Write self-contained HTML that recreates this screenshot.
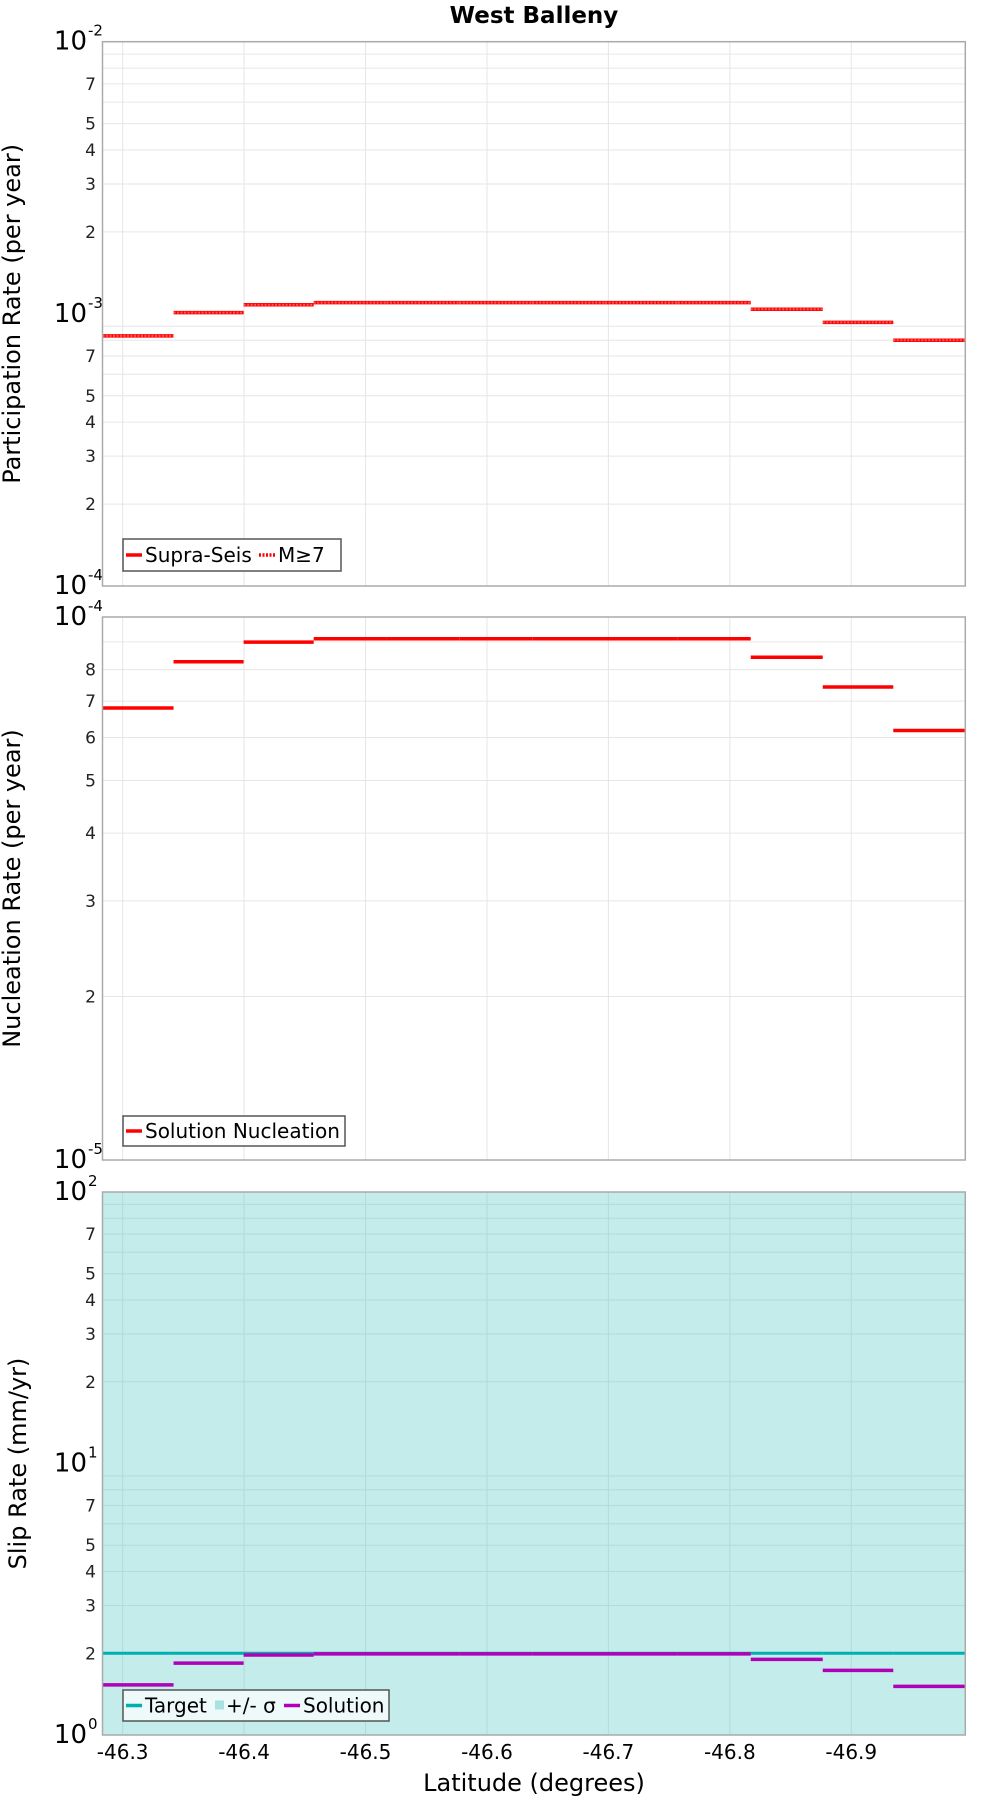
<!DOCTYPE html>
<html><head><meta charset="utf-8"><style>
body{margin:0;background:#fff;}
svg{display:block;font-family:"DejaVu Sans","Liberation Sans",sans-serif;}
</style></head><body>
<svg id="chart" width="1000" height="1800" viewBox="0 0 1000 1800">
<text x="534" y="23" text-anchor="middle" font-size="23" font-weight="bold">West Balleny</text>
<g id="g"></g>
</svg>
<script>
// Segment boundaries (latitude magnitude, degrees south)
const segStart = [46.2834,46.3419,46.3996,46.4573,46.5173,46.5772,46.6373,46.6972,46.7572,46.8172,46.8765,46.9346];
const segEnd   = [46.3419,46.3996,46.4573,46.5173,46.5772,46.6373,46.6972,46.7572,46.8172,46.8765,46.9346,46.9939];
const xTicks = [46.3,46.4,46.5,46.6,46.7,46.8,46.9];
const xTickLabels = ["-46.3","-46.4","-46.5","-46.6","-46.7","-46.8","-46.9"];
const supraSeis = [8.3e-4,1.01e-3,1.08e-3,1.10e-3,1.10e-3,1.10e-3,1.10e-3,1.10e-3,1.10e-3,1.04e-3,9.3e-4,8.0e-4];
const m7 = [8.3e-4,1.01e-3,1.08e-3,1.10e-3,1.10e-3,1.10e-3,1.10e-3,1.10e-3,1.10e-3,1.04e-3,9.3e-4,8.0e-4];
const nucleation = [6.8e-5,8.27e-5,8.99e-5,9.12e-5,9.12e-5,9.12e-5,9.12e-5,9.12e-5,9.12e-5,8.43e-5,7.43e-5,6.18e-5];
const slipTarget = [2.0,2.0,2.0,2.0,2.0,2.0,2.0,2.0,2.0,2.0,2.0,2.0];
const slipSolution = [1.53,1.84,1.97,1.99,1.99,1.99,1.99,1.99,1.99,1.90,1.73,1.51];

const NS="http://www.w3.org/2000/svg";
const G=document.getElementById('g');
function mk(tag,attrs,parent){const e=document.createElementNS(NS,tag);for(const k in attrs)e.setAttribute(k,attrs[k]);(parent||G).appendChild(e);return e;}
const L=102.5,R=965.3,X0=46.2834,X1=46.9939;
function xs(v){return L+(v-X0)/(X1-X0)*(R-L);}

function panel(top,bot,dmin,dmax,name,title,titleX){
  const ys=v=>bot-(Math.log10(v)-dmin)/(dmax-dmin)*(bot-top);
  const p=mk('g',{});
  
  
  const bg=mk('rect',{x:L,y:top,width:R-L,height:bot-top,fill:'#fff'},p);
  
  
  for(let d=dmin;d<dmax;d++){for(let m=1;m<10;m++){const v=m*Math.pow(10,d);const y=ys(v);
    if(m>1){const gl=mk('line',{x1:L,x2:R,y1:y,y2:y,stroke:'#e6e6e6','stroke-width':1},p);
      
      }
    if([2,3,4,5,7].includes(m)||(m===8&&dmax-dmin===1)||(m===6&&dmax-dmin===1)){
      const t=mk('text',{x:96,y:y+6,'text-anchor':'end','font-size':17,fill:'#222'},p);t.textContent=m;
      
      }
  }}
  for(let d=dmin;d<=dmax;d++){const y=ys(Math.pow(10,d));
    const t=mk('text',{x:87,y:y+8,'text-anchor':'end','font-size':26,fill:'#000'},p);t.textContent='10';
    
    
    const s=mk('text',{x:88,y:y-6,'font-size':15,fill:'#000'},p);s.textContent=d;
    
    }
  xTicks.forEach(v=>{const gl=mk('line',{x1:xs(v),x2:xs(v),y1:top,y2:bot,stroke:'#e6e6e6','stroke-width':1},p);
    
    });
  const yt=mk('text',{x:titleX,y:(top+bot)/2,'text-anchor':'middle','font-size':24,transform:`rotate(-90 ${titleX} ${(top+bot)/2})`},p);
  yt.textContent=title;
  
  
  return {ys,p,bg};
}
function seg(p,vals,ys,color,w,dash,name){vals.forEach((v,i)=>{const l=mk('line',{x1:xs(segStart[i]),x2:xs(segEnd[i]),y1:ys(v),y2:ys(v),stroke:color,'stroke-width':w},p);
  if(dash)l.setAttribute('stroke-dasharray',dash);
  
  });}
function border(p,top,bot,name){const b=mk('rect',{x:L,y:top,width:R-L,height:bot-top,fill:'none',stroke:'#aaa','stroke-width':1.5},p);
  
  }
function legend(p,x,y,w,h,items,name,bgc){const g=mk('g',{},p);
  
  
  mk('rect',{x:x,y:y,width:w,height:h,fill:bgc,stroke:'#555','stroke-width':1.5},g);
  let cx=x+3;items.forEach(it=>{
    if(it.sw==='box'){mk('rect',{x:cx+2,y:y+h/2-5,width:9,height:9,fill:it.c},g);cx+=13;}
    else{const l=mk('line',{x1:cx,x2:cx+16,y1:y+h/2,y2:y+h/2,stroke:it.c,'stroke-width':3.5},g);if(it.dash)l.setAttribute('stroke-dasharray',it.dash);cx+=19;}
    const t=mk('text',{x:cx,y:y+h/2+7,'font-size':20},g);t.textContent=it.t;
    
    
    cx+=it.tw;});}

// Panel 1
const P1=panel(41.7,586,-4,-2,'participation','Participation Rate (per year)',20);
seg(P1.p,supraSeis,P1.ys,'#ff0000',3.5,null,'supra-seis');
seg(P1.p,m7,P1.ys,'#ff5555',2,'2 1.5','m7');
border(P1.p,41.7,586,'participation');
legend(P1.p,123,539,218,32,[{c:'#f00',t:'Supra-Seis',tw:114},{c:'#f00',t:'M≥7',dash:'2 1.5',tw:40}],'participation-legend','#fff');

// Panel 2
const P2=panel(617,1160,-5,-4,'nucleation','Nucleation Rate (per year)',20);
seg(P2.p,nucleation,P2.ys,'#ff0000',3.5,null,'nucleation');
border(P2.p,617,1160,'nucleation');
legend(P2.p,123,1116,222,30,[{c:'#f00',t:'Solution Nucleation',tw:190}],'nucleation-legend','#fff');

// Panel 3
const P3=panel(1192,1735,0,2,'slip','Slip Rate (mm/yr)',26);
P3.bg.setAttribute('fill','#c3ecea');
P3.p.querySelectorAll('line').forEach(l=>{l.setAttribute('stroke','#b0dcda');});
seg(P3.p,slipTarget,P3.ys,'#00b0b0',3,null,'slip-target');
seg(P3.p,slipSolution,P3.ys,'#b000b8',3.5,null,'slip-solution');
border(P3.p,1192,1735,'slip');
legend(P3.p,123,1690,266,31,[{c:'#00b0b0',t:'Target',tw:68},{c:'#a8e2e0',t:'+/- σ',sw:'box',tw:58},{c:'#b000b8',t:'Solution',tw:80}],'slip-legend','#eef9f9');

// X axis
xTicks.forEach((v,i)=>{const t=mk('text',{x:xs(v),y:1759,'text-anchor':'middle','font-size':20});t.textContent=xTickLabels[i];
  
  });
const xt=mk('text',{x:534,y:1791,'text-anchor':'middle','font-size':24});xt.textContent='Latitude (degrees)';


</script>
</body></html>
